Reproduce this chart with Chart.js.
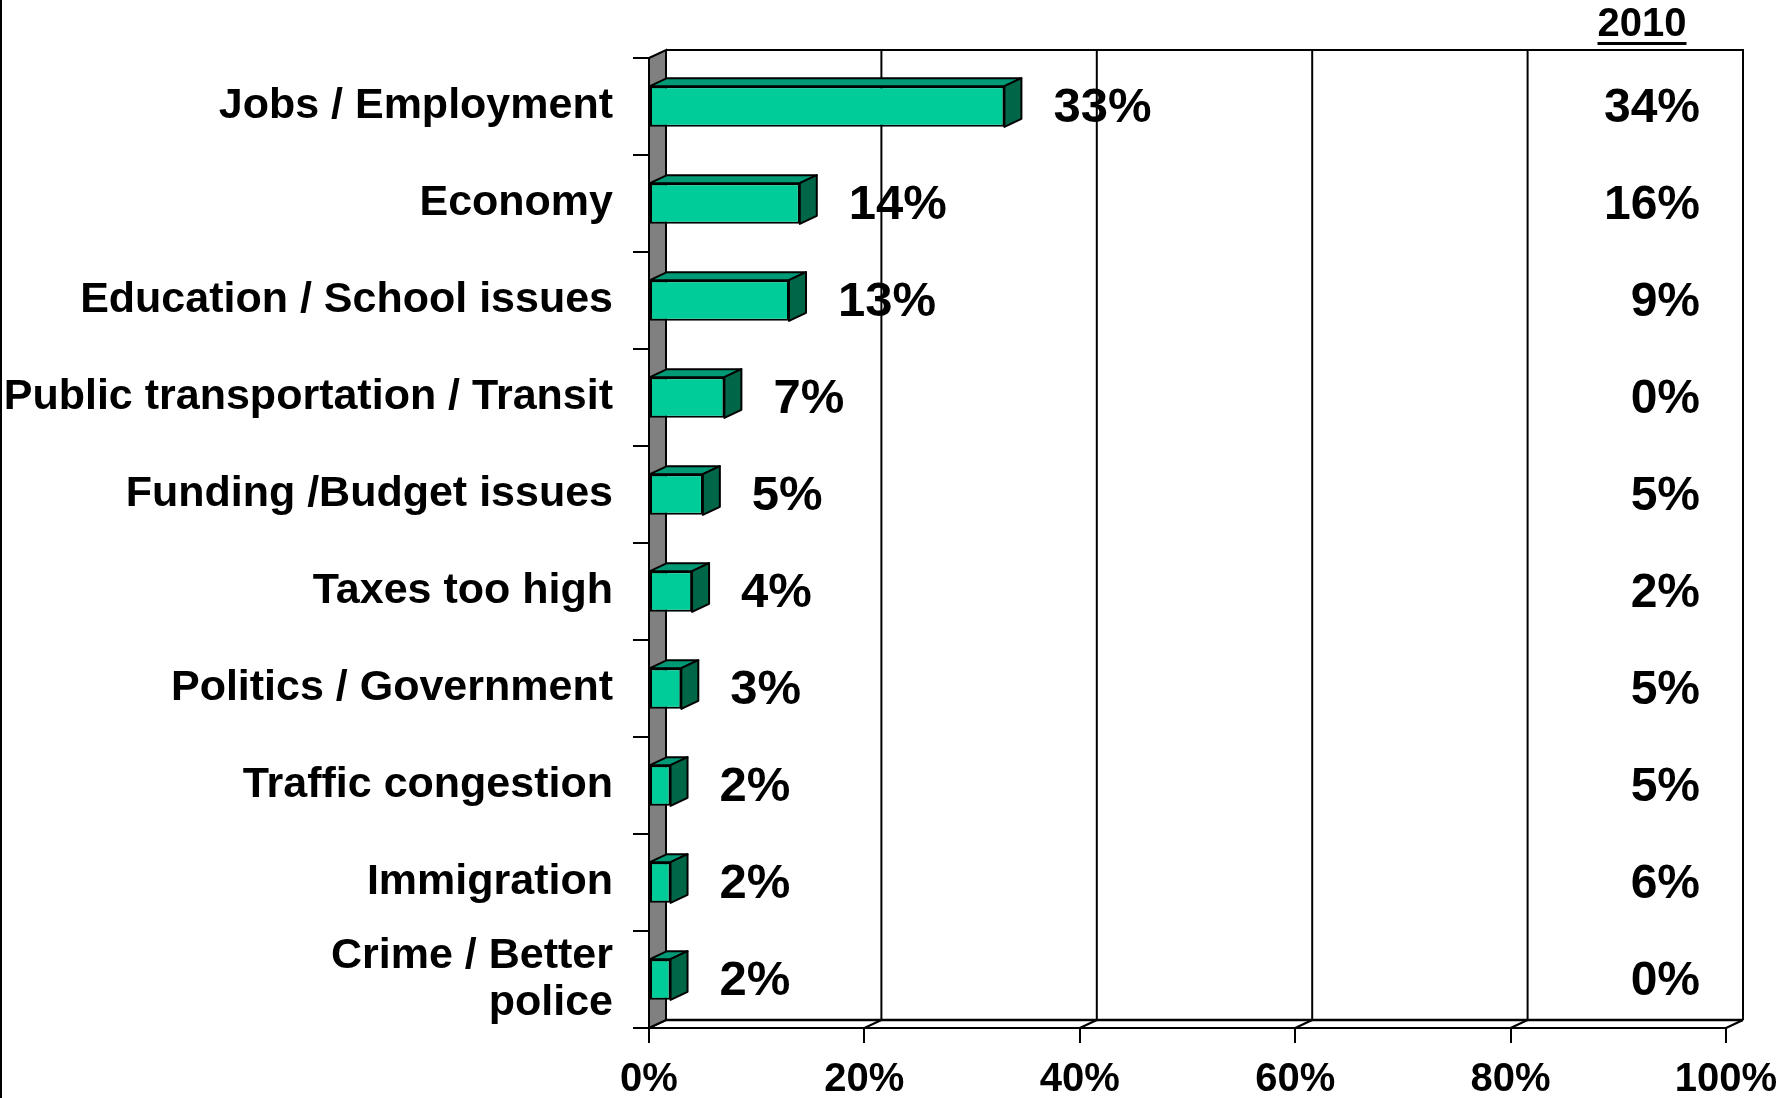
<!DOCTYPE html>
<html>
<head>
<meta charset="utf-8">
<script src="https://cdn.jsdelivr.net/npm/chart.js@4/dist/chart.umd.min.js"></script>
<style>
html,body{margin:0;padding:0;background:#fff;overflow:hidden}
canvas{display:block}
</style>
</head>
<body>
<canvas id="c" width="1786" height="1098"></canvas>
<script>
const categories = ['Jobs / Employment','Economy','Education / School issues','Public transportation / Transit','Funding /Budget issues','Taxes too high','Politics / Government','Traffic congestion','Immigration',['Crime / Better','police']];
const values2012 = [33,14,13,7,5,4,3,2,2,2];
const values2010 = [34,16,9,0,5,2,5,5,6,0];
const xTicks = [0,20,40,60,80,100];
const columnHeader = '2010';

const FONT = "'Liberation Sans', Arial, sans-serif";
const DX = 17, DY = -8;
const FRONT = '#00CC99', TOP = '#009B76', SIDE = '#006648', WALL = '#808080';

const threeD = {
  id: 'threeD',
  beforeDatasetsDraw(chart) {
    const {ctx, chartArea: {left, right, top, bottom}, scales: {x}} = chart;
    ctx.save();
    ctx.strokeStyle = '#000';
    ctx.lineWidth = 2;
    // slide border at left
    ctx.beginPath(); ctx.moveTo(1, 0); ctx.lineTo(1, chart.height); ctx.stroke();
    // back wall outline
    ctx.beginPath();
    ctx.moveTo(left + DX, top + DY);
    ctx.lineTo(right + DX, top + DY);
    ctx.lineTo(right + DX, bottom + DY);
    ctx.stroke();
    // back wall grid lines
    xTicks.forEach(v => {
      if (v === xTicks[0] || v === xTicks[xTicks.length - 1]) return;
      const px = x.getPixelForValue(v) + DX;
      ctx.beginPath(); ctx.moveTo(px, top + DY); ctx.lineTo(px, bottom + DY); ctx.stroke();
    });
    // floor
    ctx.lineWidth = 2.5;
    ctx.beginPath(); ctx.moveTo(left + DX, bottom + DY); ctx.lineTo(right + DX, bottom + DY); ctx.stroke();
    ctx.lineWidth = 2;
    ctx.beginPath(); ctx.moveTo(left - 16, bottom); ctx.lineTo(right, bottom); ctx.stroke();
    xTicks.forEach(v => {
      const px = x.getPixelForValue(v);
      ctx.beginPath(); ctx.moveTo(px, bottom); ctx.lineTo(px + DX, bottom + DY); ctx.stroke();
    });
    // grey side wall
    ctx.beginPath();
    ctx.moveTo(left, top);
    ctx.lineTo(left + DX, top + DY);
    ctx.lineTo(left + DX, bottom + DY);
    ctx.lineTo(left, bottom);
    ctx.closePath();
    ctx.fillStyle = WALL;
    ctx.fill();
    ctx.stroke();
    ctx.restore();
  },
  afterDatasetsDraw(chart) {
    const {ctx, chartArea: {right}} = chart;
    const meta = chart.getDatasetMeta(0);
    ctx.save();
    ctx.strokeStyle = '#000';
    ctx.lineWidth = 2;
    ctx.lineJoin = 'round';
    meta.data.forEach((el, i) => {
      const x0 = el.base, x1 = el.x;
      const yT = el.y - el.height / 2, yB = el.y + el.height / 2;
      ctx.beginPath();
      ctx.moveTo(x0, yT); ctx.lineTo(x1, yT); ctx.lineTo(x1 + DX, yT + DY); ctx.lineTo(x0 + DX, yT + DY); ctx.closePath();
      ctx.fillStyle = TOP; ctx.fill(); ctx.stroke();
      ctx.beginPath();
      ctx.moveTo(x1, yT); ctx.lineTo(x1 + DX, yT + DY); ctx.lineTo(x1 + DX, yB + DY); ctx.lineTo(x1, yB); ctx.closePath();
      ctx.fillStyle = SIDE; ctx.fill(); ctx.stroke();
      // value labels
      ctx.fillStyle = '#000';
      ctx.font = 'bold 49px ' + FONT;
      ctx.textAlign = 'left';
      ctx.textBaseline = 'middle';
      ctx.fillText(values2012[i] + '%', x1 + DX + 32, el.y + 2);
      // 2010 column
      ctx.font = 'bold 48px ' + FONT;
      ctx.textAlign = 'right';
      ctx.fillText(values2010[i] + '%', right + DX - 43, el.y + 2);
    });
    // column header
    ctx.font = 'bold 40px ' + FONT;
    ctx.textAlign = 'center';
    ctx.textBaseline = 'middle';
    const hx = right + DX - 101;
    ctx.fillText(columnHeader, hx, 25);
    const w = ctx.measureText(columnHeader).width;
    ctx.fillRect(hx - w / 2, 42, w, 3);
    ctx.restore();
  }
};

new Chart(document.getElementById('c'), {
  type: 'bar',
  data: {
    labels: categories,
    datasets: [{
      data: values2012,
      backgroundColor: FRONT,
      borderColor: '#000',
      borderWidth: 2,
      borderSkipped: false,
      categoryPercentage: 1,
      barPercentage: 0.42
    }]
  },
  options: {
    indexAxis: 'y',
    responsive: false,
    animation: false,
    layout: {padding: {top: 58, right: 60, left: 0, bottom: 0}},
    plugins: {legend: {display: false}, tooltip: {enabled: false}},
    scales: {
      x: {
        type: 'linear',
        min: 0, max: 100,
        afterFit(scale) { scale.height = 70; scale.paddingLeft = 0; scale.paddingRight = 0; },
        afterBuildTicks(scale) { scale.ticks = xTicks.map(v => ({value: v})); },
        grid: {drawOnChartArea: false, drawTicks: true, tickLength: 15, color: '#000', lineWidth: 2},
        border: {display: false},
        ticks: {
          callback: v => v + '%',
          color: '#000',
          padding: 13,
          maxRotation: 0,
          autoSkip: false,
          font: {family: FONT, size: 40, weight: 'bold'}
        }
      },
      y: {
        afterFit(scale) { scale.width = 649; scale.paddingTop = 0; scale.paddingBottom = 0; },
        grid: {drawOnChartArea: false, drawTicks: true, tickLength: 16, color: '#000', lineWidth: 2, offset: true},
        border: {display: false},
        ticks: {
          color: '#000',
          padding: 20,
          autoSkip: false,
          font: {family: FONT, size: 43, weight: 'bold', lineHeight: 1.1}
        }
      }
    }
  },
  plugins: [threeD]
});
</script>
</body>
</html>
